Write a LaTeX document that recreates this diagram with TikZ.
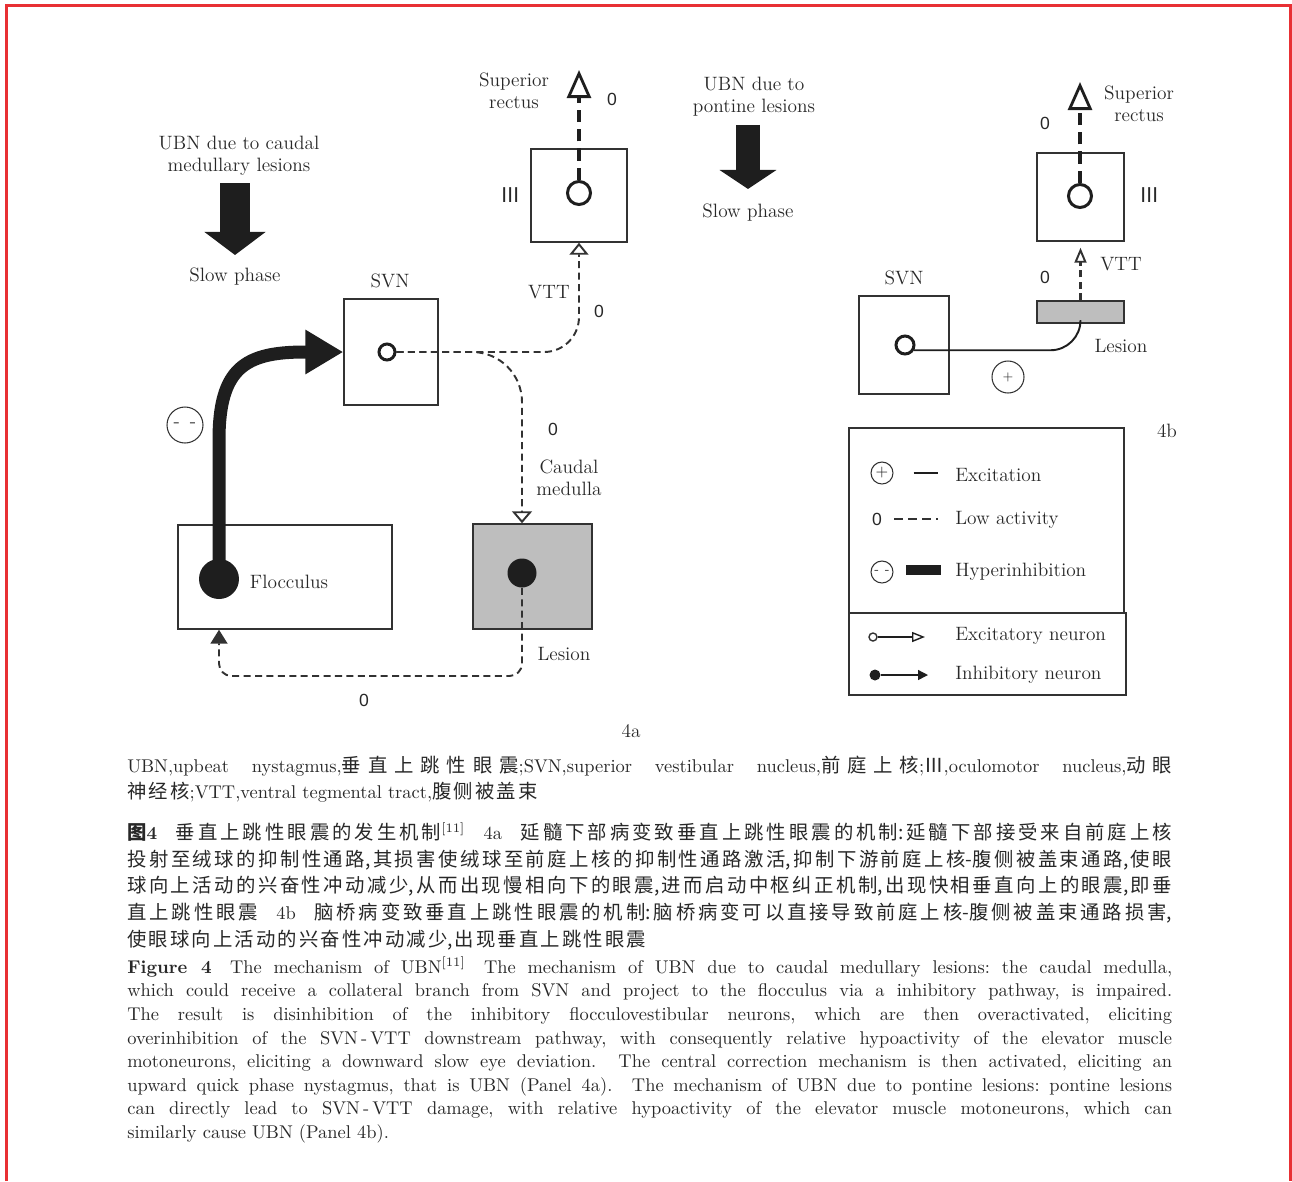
\documentclass[tikz,border=0pt]{standalone}
\usepackage{fontspec}
\usepackage{tikz}
\usetikzlibrary{positioning, arrows.meta}
\newfontfamily\cjk{Noto Sans CJK SC}[Scale=1.05]
\newfontfamily\zerofont{Liberation Sans}
\definecolor{inkblack}{RGB}{30,30,30}
\definecolor{linegray}{RGB}{50,50,50}
\definecolor{lesiongray}{RGB}{190,190,190}
\definecolor{textgray}{RGB}{40,40,40}
\definecolor{borderred}{RGB}{232,48,52}
\XeTeXlinebreaklocale "zh"
\XeTeXlinebreakskip=1.2pt plus 0.5pt minus 0.2pt
\tolerance=9999
\frenchspacing
\newcommand{\capstrut}{\rule{0pt}{11pt}}

\begin{document}
\begin{tikzpicture}[x=0.02cm, y=-0.02cm,
  every node/.style={font=\fontsize{11}{12.5}\selectfont, text=textgray, inner sep=0pt},
  nbox/.style={draw=linegray, line width=0.85pt},
  lesion/.style={nbox, fill=lesiongray},
  excn/.style={circle, draw=inkblack, line width=1.7pt, minimum size=#1},
  inhn/.style={circle, fill=inkblack, minimum size=#1},
  sign/.style={circle, draw=linegray, line width=0.6pt, minimum size=#1},
  zero/.style={font=\zerofont\fontsize{10}{12}\selectfont},
  romn/.style={font=\cjk\fontsize{11}{12}\selectfont},
  excline/.style={draw=inkblack, line width=1.1pt},
  low/.style={draw=linegray, line width=1.1pt, dash pattern=on 4pt off 2.5pt},
  lowthick/.style={draw=inkblack, line width=2.3pt, dash pattern=on 7pt off 4pt},
  slowarrow/.style={draw=inkblack, line width=0.62cm, -{Triangle[length=0.46cm, width=1.2cm]}},
  captxt/.style={anchor=north west, text width=20.9cm, align=justify}]

 \useasboundingbox (0,0) rectangle (1292,1181);
 \draw[borderred, line width=1.2pt] (6.5,1181) -- (6.5,5.5) -- (1290.5,5.5) -- (1290.5,1181);

 % 4a: caudal medullary lesions
 \node[align=center] (titleA) at (239,156) {UBN due to caudal\\medullary lesions};
 \node (slowA) at (235,277) {Slow phase};
 \draw[slowarrow] ([yshift=-0.14cm]titleA.south -| slowA.north) -- ([yshift=0.26cm]slowA.north);

 \node[nbox, minimum width=1.88cm, minimum height=2.12cm] (svnA) at (391,352) {};
 \node[nbox, minimum width=1.92cm, minimum height=1.86cm] (ocA) at (579,195.5) {};
 \node[nbox, minimum width=4.28cm, minimum height=2.08cm] (floc) at (285,577) {};
 \node[lesion, minimum width=2.38cm, minimum height=2.1cm] (caud) at (532.5,576.5) {};

 \node[excn=0.32cm] (nSvnA) at (387,352) {};
 \node[excn=0.46cm] (nOcA) at (579,193) {};
 \node[inhn=0.8cm] (nFloc) at (219,579) {};
 \node[inhn=0.58cm] (nCaud) at (522,573) {};
 \coordinate (supA) at (579,70);
 \coordinate (loopA) at (0,676);

 \draw[inkblack, line width=0.26cm, -{Triangle[length=0.76cm, width=0.84cm]}]
   (nFloc.center) -- (219,440) .. controls (219,368) and (245,352) .. (305,352) -- (svnA.west);
 \draw[lowthick, -{Triangle[open, length=0.56cm, width=0.48cm, line width=1.6pt]}] (nOcA) -- (supA);
 \draw[low, rounded corners=0.7cm, -{Triangle[open, length=0.24cm, width=0.38cm]}]
   (nSvnA) -- (ocA.south |- nSvnA) -- (ocA.south);
 \draw[low, rounded corners=1cm, -{Triangle[open, length=0.24cm, width=0.4cm]}]
   (nSvnA) -- (nCaud |- nSvnA) -- (nCaud |- caud.north);
 \draw[low, rounded corners=0.25cm, -{Triangle[length=0.28cm, width=0.34cm]}]
   (nCaud) -- (nCaud |- loopA) -- (nFloc |- loopA) -- (nFloc |- floc.south);

 \node[sign=0.72cm] (hypA) at (185,425) {-\hspace{0.2cm}-};
 \node (svnAlbl) at (390,281) {SVN};
 \node[align=center] (supAlbl) at (514,91) {Superior\\rectus};
 \node[zero] (zeroA1) at (612,99) {0};
 \node[romn] (ocAlbl) at (511,195) {Ⅲ};
 \node (vttA) at (549,292) {VTT};
 \node[zero] (zeroA2) at (599,311) {0};
 \node[zero] (zeroA3) at (553,429) {0};
 \node[align=center] (caudlbl) at (569,478) {Caudal\\medulla};
 \node (floclbl) at (289,582) {Flocculus};
 \node (lesAlbl) at (564,654) {Lesion};
 \node[zero] (zeroA4) at (364,700) {0};
 \node (panelA) at (631,731) {4a};

 % 4b: pontine lesions
 \node[align=center] (titleB) at (754,97) {UBN due to\\pontine lesions};
 \node (slowB) at (748,213) {Slow phase};
 \draw[slowarrow, line width=0.48cm, -{Triangle[length=0.38cm, width=1.12cm]}]
   ([yshift=-0.16cm]titleB.south -| slowB.north) -- ([yshift=0.3cm]slowB.north);

 \node[nbox, minimum width=1.74cm, minimum height=1.76cm] (ocB) at (1080.5,197) {};
 \node[lesion, minimum width=1.74cm, minimum height=0.44cm] (lesB) at (1080.5,312) {};
 \node[nbox, minimum width=1.8cm, minimum height=1.96cm] (svnB) at (904,345) {};
 \node[excn=0.46cm] (nOcB) at (1080,196) {};
 \node[excn=0.36cm] (nSvnB) at (905,345) {};
 \coordinate (supB) at (1080,82);

 \draw[lowthick, -{Triangle[open, length=0.56cm, width=0.48cm, line width=1.6pt]}] (nOcB) -- (supB);
 \draw[low, line width=1.6pt, shorten >=0.12cm, -{Triangle[open, length=0.3cm, width=0.24cm, line width=1.1pt]}]
   (lesB.north) -- (ocB.south);
 \draw[excline, rounded corners=0.6cm] (nSvnB.-30) -- (nSvnB.-30 -| lesB.south) -- (lesB.south);

 \node[sign=0.64cm, font=\scriptsize] (excB) at (1008,377) {+};
 \node (svnBlbl) at (904,278) {SVN};
 \node[align=center] (supBlbl) at (1139,104) {Superior\\rectus};
 \node[zero] (zeroB1) at (1045,123) {0};
 \node[romn] (ocBlbl) at (1150,195) {Ⅲ};
 \node (vttB) at (1121,264) {VTT};
 \node[zero] (zeroB2) at (1045,277) {0};
 \node (lesBlbl) at (1121,346) {Lesion};
 \node (panelB) at (1167,431) {4b};

 % legend
 \node[nbox, minimum width=5.5cm, minimum height=3.7cm] (legTop) at (986.5,520.5) {};
 \node[nbox, minimum width=5.54cm, minimum height=1.64cm] (legBot) at (987.5,654) {};
 \node[anchor=west] (lgExc) at (955,475) {Excitation};
 \node[anchor=west] (lgLow) at (955,520) {Low activity};
 \node[anchor=west] (lgHyp) at (955,572) {Hyperinhibition};
 \node[anchor=west] (lgExN) at (955,636) {Excitatory neuron};
 \node[anchor=west] (lgInN) at (955,675) {Inhibitory neuron};

 \node[sign=0.44cm, font=\small] (lgPlus) at (882,473) {+};
 \draw[excline, line width=0.8pt] (lgPlus.east) ++(20,0) -- ++(24,0);
 \node[zero] (lgZero) at (877,519) {0};
 \draw[low, line width=0.8pt, dash pattern=on 5pt off 3pt] (lgZero.east) ++(12,0) -- ++(44,0);
 \node[sign=0.44cm, font=\scriptsize] (lgMinus) at (882,572) {-\hspace{0.12cm}-};
 \fill[inkblack] (lgMinus.east) ++(12,-7) rectangle ++(35,10);
 \node[circle, draw=linegray, line width=0.8pt, minimum size=0.16cm] (lgExDot) at (873,637) {};
 \draw[excline, line width=0.8pt, -{Triangle[open, length=0.26cm, width=0.2cm]}] (lgExDot) -- ++(52,0);
 \node[inhn=0.22cm] (lgInDot) at (875,675) {};
 \draw[excline, line width=0.8pt, -{Triangle[length=0.2cm, width=0.2cm]}] (lgInDot) -- ++(53,0);

 % caption
 \node[captxt, font=\fontsize{10.5}{14.8}\selectfont] (capAbbr) at (127,752.7) {\capstrut UBN,upbeat nystagmus,{\cjk 垂直上跳性眼震};SVN,superior vestibular nucleus,{\cjk 前庭上核};{\cjk Ⅲ},oculomotor nucleus,{\cjk 动眼}\linebreak
 {\cjk 神经核};VTT,ventral tegmental tract,{\cjk 腹侧被盖束}};

 \node[captxt, font=\fontsize{10.5}{15.2}\selectfont] (capZh) at (127,819.7) {\capstrut{\cjk\bfseries 图}\textbf{4}\quad{\cjk 垂直上跳性眼震的发生机制}\textsuperscript{[11]}\quad 4a\quad{\cjk 延髓下部病变致垂直上跳性眼震的机制:延髓下部接受来自前庭上核}\linebreak
 {\cjk 投射至绒球的抑制性通路,其损害使绒球至前庭上核的抑制性通路激活,抑制下游前庭上核-腹侧被盖束通路,使眼}\linebreak
 {\cjk 球向上活动的兴奋性冲动减少,从而出现慢相向下的眼震,进而启动中枢纠正机制,出现快相垂直向上的眼震,即垂}\linebreak
 {\cjk 直上跳性眼震}\quad 4b\quad{\cjk 脑桥病变致垂直上跳性眼震的机制:脑桥病变可以直接导致前庭上核-腹侧被盖束通路损害,}\linebreak
 {\cjk 使眼球向上活动的兴奋性冲动减少,出现垂直上跳性眼震}};

 \node[captxt, font=\fontsize{10.5}{13.4}\selectfont] (capEn) at (127,953.7) {\capstrut\textbf{Figure 4}\quad The mechanism of UBN\textsuperscript{[11]}\quad The mechanism of UBN due to caudal medullary lesions: the caudal medulla,\linebreak
 which could receive a collateral branch from SVN and project to the flocculus via a inhibitory pathway, is impaired.\linebreak
 The result is disinhibition of the inhibitory flocculovestibular neurons, which are then overactivated, eliciting\linebreak
 overinhibition of the SVN\,-\,VTT downstream pathway, with consequently relative hypoactivity of the elevator muscle\linebreak
 motoneurons, eliciting a downward slow eye deviation.\ \ The central correction mechanism is then activated, eliciting an\linebreak
 upward quick phase nystagmus, that is UBN (Panel 4a).\ \ The mechanism of UBN due to pontine lesions: pontine lesions\linebreak
 can directly lead to SVN\,-\,VTT damage, with relative hypoactivity of the elevator muscle motoneurons, which can\linebreak
 similarly cause UBN (Panel 4b).};
\end{tikzpicture}
\end{document}
